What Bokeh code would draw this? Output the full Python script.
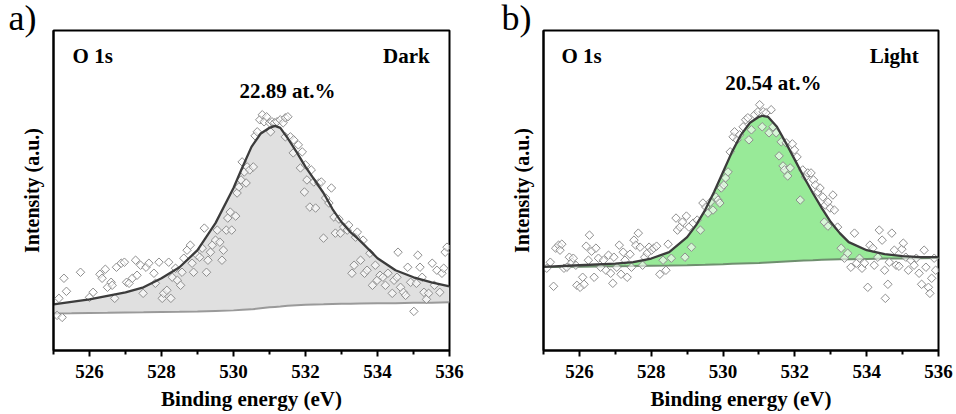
import math
from bokeh.plotting import figure
from bokeh.layouts import row
from bokeh.models import Range1d, FixedTicker, Label, Title
from bokeh.embed import file_html
from bokeh.resources import INLINE

FONT = "Liberation Serif, Times New Roman, DejaVu Serif, serif"

# ---------------- data : panel a (Dark) ----------------
a_fit_x = [525, 525.5, 526, 526.5, 527, 527.5, 528, 528.5, 529, 529.5, 530, 530.25, 530.5,
           530.75, 531, 531.15, 531.3, 531.5, 531.75, 532, 532.25, 532.5, 532.75, 533,
           533.25, 533.5, 534, 534.5, 535, 535.5, 536]
a_fit_y = [46, 48.5, 51, 54.5, 58, 63, 72, 83, 100, 127, 162, 183, 203,
           216, 222, 224, 222, 212, 198, 183, 170, 157, 141, 128,
           118, 110, 92, 80, 73, 68, 64]
a_bg_y = [37, 37.2, 37.5, 37.7, 38, 38.2, 38.5, 38.7, 39, 39.5, 40, 40.5, 41,
          42, 43, 43.4, 43.8, 44.5, 45, 45.5, 45.8, 46, 46.3, 46.5,
          46.7, 46.8, 47, 47.2, 47.5, 47.7, 48]
a_pts_x = [525.1, 525.24, 525.15, 525.29, 525.36, 525.75, 526.0, 526.1, 526.29, 526.35,
           526.44, 526.5, 526.6, 526.63, 526.7, 526.75, 526.88, 526.97, 527.03, 527.1,
           527.19, 527.28, 527.32, 527.42, 527.49, 527.57, 527.65, 527.79, 527.83, 527.93,
           528.02, 528.06, 528.15, 528.2, 528.26, 528.3, 528.39, 528.44, 528.53, 528.57,
           528.62, 528.71, 528.8, 528.85, 528.89, 528.99, 529.06, 529.13, 529.19, 529.25,
           529.29, 529.36, 529.41, 529.5, 529.55, 529.62, 529.68, 529.72, 529.8, 529.84,
           529.91, 529.95, 530.06, 530.1, 530.15, 530.21, 530.24, 530.3, 530.35, 530.38,
           530.45, 530.55, 530.6, 530.66, 530.73, 530.8, 530.85, 530.92, 531.0, 531.03,
           531.07, 531.14, 531.21, 531.3, 531.38, 531.44, 531.51, 531.44, 531.58, 531.67,
           531.66, 531.8, 531.91, 531.86, 532.0, 532.04, 532.16, 532.23, 531.97, 532.12,
           532.28, 532.37, 532.44, 532.5, 532.56, 532.65, 532.72, 532.79, 532.83, 532.93,
           532.97, 533.06, 533.16, 533.2, 533.29, 533.35, 533.39, 533.44, 533.53, 533.6,
           533.64, 533.71, 533.79, 533.86, 533.94, 533.99, 534.07, 534.15, 534.22, 534.29,
           534.41, 534.46, 534.54, 534.57, 534.64, 534.72, 534.78, 534.84, 534.92, 535.01,
           535.08, 535.12, 535.18, 535.24, 535.29, 535.36, 535.42, 535.52, 535.58, 535.65,
           535.73, 535.79, 535.84, 535.88, 535.93]
a_pts_y = [35, 33, 52, 72, 59, 78, 53, 58, 76, 72,
           81, 63, 68, 65, 52, 83, 87, 88, 68, 67,
           72, 90, 75, 85, 57, 83, 87, 77, 67, 88,
           52, 57, 60, 88, 52, 73, 82, 70, 65, 78,
           92, 100, 105, 87, 78, 95, 93, 102, 122, 78,
           90, 98, 105, 110, 120, 108, 90, 100, 120, 132,
           138, 120, 134, 157, 163, 170, 188, 178, 167, 183,
           180, 183, 214, 218, 230, 235, 228, 233, 227, 218,
           228, 227, 228, 230, 227, 232, 233, 213, 213, 210,
           197, 205, 198, 182, 185, 170, 180, 168, 158, 143,
           142, 167, 168, 112, 152, 147, 162, 133, 117, 131,
           117, 123, 120, 125, 77, 85, 113, 118, 90, 110,
           77, 80, 97, 65, 85, 70, 75, 73, 65, 77,
           57, 70, 73, 98, 63, 58, 55, 83, 68, 39,
           67, 95, 83, 73, 58, 51, 57, 87, 65, 80,
           58, 77, 82, 98, 103]

# ---------------- data : panel b (Light) ----------------
b_fit_x = [525, 526, 527, 527.5, 528, 528.5, 529, 529.25, 529.5, 529.75, 530, 530.25, 530.5,
           530.75, 531, 531.1, 531.25, 531.5, 531.75, 532, 532.25, 532.5, 532.75, 533,
           533.25, 533.5, 534, 534.5, 535, 535.5, 536]
b_fit_y = [83.3, 85, 86.7, 88, 91.7, 98, 113, 125, 140, 158, 178, 198, 215,
           227, 233, 234, 233, 223, 207, 190, 173, 157, 142, 128,
           117, 108, 100, 96, 94, 93, 93]
b_bg_y = [83.3, 83.6, 84, 84.2, 84.5, 84.7, 85, 85.3, 85.5, 85.8, 86, 86.4, 86.7,
          87, 87.3, 87.5, 87.8, 88.3, 88.8, 89.3, 89.7, 90, 90.4, 90.7,
          90.9, 91, 91.3, 91.6, 91.8, 92, 92.3]
b_pts_x = [525.09, 525.19, 525.28, 525.34, 525.42, 525.46, 525.51, 525.57, 525.65, 525.72,
           525.79, 525.83, 525.9, 525.93, 526.02, 526.09, 526.13, 526.19, 526.25, 526.28,
           526.34, 526.41, 526.46, 526.53, 526.59, 526.67, 526.74, 526.81, 526.87, 526.93,
           526.96, 527.04, 527.11, 527.16, 527.22, 527.27, 527.33, 527.41, 527.45, 527.52,
           527.57, 527.64, 527.69, 527.76, 527.82, 527.89, 527.94, 528.01, 528.07, 528.15,
           528.24, 528.33, 528.41, 528.47, 528.56, 528.69, 528.73, 528.8, 528.87, 528.94,
           528.98, 529.05, 529.12, 529.17, 529.28, 529.37, 529.44, 529.52, 529.58, 529.65,
           529.72, 529.8, 529.86, 529.91, 529.95, 530.02, 530.07, 530.14, 530.2, 530.28,
           530.32, 530.39, 530.46, 530.56, 530.63, 530.69, 530.72, 530.79, 530.88, 530.97,
           531.02, 531.09, 531.12, 531.2, 531.28, 531.34, 531.39, 531.48, 531.56, 531.62,
           531.67, 531.71, 531.76, 531.8, 531.87, 531.93, 531.99, 532.06, 532.15, 532.22,
           532.3, 532.36, 532.45, 532.52, 532.57, 532.64, 532.7, 532.78, 532.85, 532.92,
           532.98, 533.06, 533.1, 532.82, 532.92, 533.19, 533.29, 533.38, 533.47, 533.56,
           533.66, 533.72, 533.8, 533.87, 533.94, 534.03, 534.09, 534.17, 534.21, 534.31,
           534.35, 534.43, 534.5, 534.52, 534.59, 534.63, 534.7, 534.77, 534.82, 534.9,
           534.98, 535.02, 535.09, 535.16, 535.23, 535.32, 535.38, 535.46, 535.53, 535.6,
           535.65, 535.72, 535.76, 535.81, 535.88, 535.92]
b_pts_y = [82, 88, 64, 102, 105, 100, 106, 82, 83, 93,
           88, 92, 85, 65, 63, 73, 66, 104, 90, 115,
           99, 73, 102, 92, 83, 90, 80, 95, 77, 67,
           93, 83, 105, 76, 98, 90, 73, 96, 83, 110,
           105, 117, 103, 85, 93, 97, 103, 100, 102, 104,
           76, 90, 80, 106, 92, 132, 120, 123, 128, 93,
           134, 123, 103, 127, 130, 120, 147, 143, 137, 148,
           140, 153, 150, 147, 162, 165, 172, 178, 198, 213,
           218, 210, 215, 223, 230, 232, 210, 220, 235, 238,
           245, 223, 238, 237, 217, 240, 223, 217, 194, 208,
           184, 180, 207, 174, 182, 206, 200, 193, 150, 180,
           173, 177, 177, 170, 165, 158, 162, 153, 145, 148,
           142, 155, 140, 128, 124, 123, 102, 92, 97, 83,
           117, 87, 92, 82, 87, 63, 105, 102, 85, 93,
           120, 110, 80, 52, 66, 88, 117, 100, 85, 84,
           101, 107, 93, 80, 90, 85, 92, 77, 66, 100,
           83, 63, 57, 72, 92, 80]

x_ticks = [526, 528, 530, 532, 534, 536]
x_minor = [525, 527, 529, 531, 533, 535]


def panel(width, left, right, fit_x, fit_y, bg_y, px, py, fill, bg_col,
          letter, letter_offset, title_right, pct, pct_x, pct_y, o1s_x):
    p = figure(width=width, height=414, x_range=Range1d(525, 536), y_range=Range1d(0, 319),
               output_backend="svg", toolbar_location=None,
               min_border_left=left, min_border_right=right,
               min_border_top=30, min_border_bottom=64)
    p.xgrid.visible = False
    p.ygrid.visible = False
    p.outline_line_color = "black"
    p.outline_line_width = 2
    p.outline_line_alpha = 1
    p.background_fill_color = "white"
    p.border_fill_color = "white"

    p.varea(x=fit_x, y1=bg_y, y2=fit_y, fill_color=fill)
    p.line(fit_x, bg_y, line_color=bg_col, line_width=2)
    p.scatter(px, py, marker="square", angle=math.pi / 4, size=6, fill_color="white",
              fill_alpha=0.6, line_color="#8e8e8e", line_width=1)
    p.line(fit_x, fit_y, line_color="#3c3c3c", line_width=2.3)

    xa = p.xaxis[0]
    xa.ticker = FixedTicker(ticks=x_ticks, minor_ticks=x_minor)
    xa.axis_line_width = 2
    xa.major_tick_line_width = 2
    xa.minor_tick_line_width = 2
    xa.major_tick_out = 6
    xa.major_tick_in = 0
    xa.minor_tick_out = 4
    xa.minor_tick_in = 0
    xa.major_label_standoff = 8
    xa.major_label_text_font = FONT
    xa.major_label_text_font_style = "bold"
    xa.major_label_text_font_size = "19px"
    xa.major_label_text_color = "black"
    xa.axis_label = "Binding energy (eV)"
    xa.axis_label_text_font = FONT
    xa.axis_label_text_font_style = "bold"
    xa.axis_label_text_font_size = "21px"
    xa.axis_label_standoff = 6
    xa.axis_label_text_color = "black"

    ya = p.yaxis[0]
    ya.ticker = FixedTicker(ticks=[])
    ya.axis_line_width = 2
    ya.major_tick_out = 0
    ya.minor_tick_out = 0
    ya.axis_label = "Intensity (a.u.)"
    ya.axis_label_text_font = FONT
    ya.axis_label_text_font_style = "bold"
    ya.axis_label_text_font_size = "20px"
    ya.axis_label_standoff = 11
    ya.axis_label_text_color = "black"

    t = Title(text=letter, align="left", offset=letter_offset, standoff=-15,
              text_font=FONT, text_font_size="36px", text_font_style="normal",
              text_color="black")
    p.add_layout(t, "above")

    p.add_layout(Label(x=o1s_x, y=294, text="O 1s", text_font=FONT, text_font_style="bold",
                       text_font_size="21px", text_baseline="middle", text_align="left",
                       text_color="black"))
    p.add_layout(Label(x=535.45, y=294, text=title_right, text_font=FONT, text_font_style="bold",
                       text_font_size="21px", text_baseline="middle", text_align="right",
                       text_color="black"))
    p.add_layout(Label(x=pct_x, y=pct_y, text=pct, text_font=FONT, text_font_style="bold",
                       text_font_size="21px", text_baseline="middle", text_align="center",
                       text_color="black"))
    return p


pa = panel(476, 53, 27, a_fit_x, a_fit_y, a_bg_y, a_pts_x, a_pts_y, "#e0e0e0", "#9a9a9a",
           "a)", -45, "Dark", "22.89 at.%", 531.5, 259, 525.53)
pb = panel(480, 67, 18, b_fit_x, b_fit_y, b_bg_y, b_pts_x, b_pts_y, "#98ea98", "#6f8f6f",
           "b)", -42, "Light", "20.54 at.%", 531.4, 267, 525.5)

layout = row(pa, pb)
open("out.html", "w").write(file_html(layout, INLINE))
